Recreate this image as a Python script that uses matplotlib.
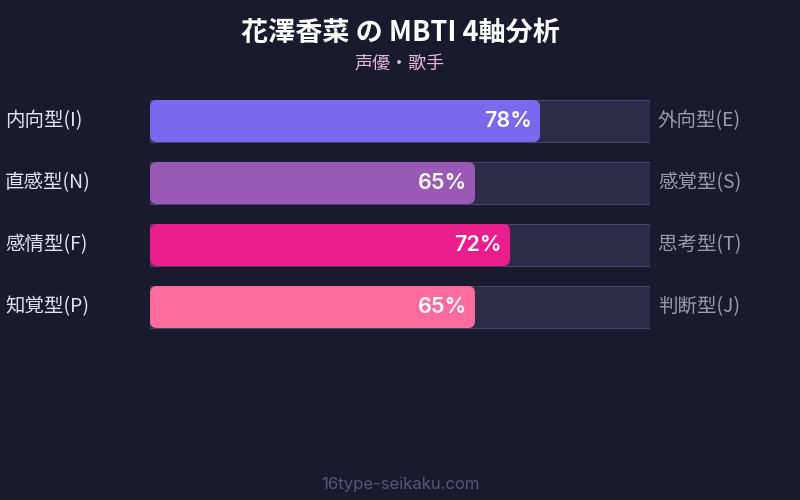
import matplotlib
matplotlib.use('Agg')
import matplotlib.pyplot as plt
from matplotlib.patches import FancyBboxPatch

plt.rcParams['font.family'] = ['Noto Sans CJK JP', 'DejaVu Sans']

# data
left_labels = ['内向型(I)', '直感型(N)', '感情型(F)', '知覚型(P)']
right_labels = ['外向型(E)', '感覚型(S)', '思考型(T)', '判断型(J)']
values = [78, 65, 72, 65]
colors = ['#7b68ee', '#9b59b6', '#e91e8c', '#ff6b9d']

bg = '#1a1a2e'
fig = plt.figure(figsize=(8, 5), dpi=100, facecolor=bg)

# axes covers the bar area: x 150..650 px, y 90..338 px
ax = fig.add_axes([150 / 800, (500 - 338) / 500, 500 / 800, 248 / 500])
ax.set_facecolor(bg)
ax.set_xlim(0, 100)
ax.set_ylim(len(values) - 0.5, -0.5)
ax.axis('off')

h = 42 / 62
# px -> data unit ratio for rounding
aspect = (1 / 62) / (100 / 500)

for i, (v, c) in enumerate(zip(values, colors)):
    ax.barh(i, 100, height=h, color='#2c2b48', edgecolor='#45446a', linewidth=0.8)
    box = FancyBboxPatch((0, i - h / 2), v, h,
                         boxstyle='round,pad=0,rounding_size=1.4',
                         mutation_aspect=aspect, facecolor=c, edgecolor='none')
    ax.add_patch(box)
    ax.text(v - 1.6, i, f'{v}%', ha='right', va='center', color='white',
            fontsize=15.5, fontweight='semibold', family=['Inter', 'DejaVu Sans'])
    ax.text(-29, i, left_labels[i], ha='left', va='center', color='#e4e4f0',
            fontsize=14, clip_on=False)
    ax.text(101.6, i, right_labels[i], ha='left', va='center', color='#9a9ab0',
            fontsize=14, clip_on=False)

fig.text(0.5, 1 - 33 / 500, '花澤香菜 の MBTI 4軸分析', ha='center', va='center',
         color='white', fontsize=19.5, fontweight='bold')
fig.text(0.5, 1 - 63 / 500, '声優・歌手', ha='center', va='center',
         color='#e0b8e0', fontsize=13)
fig.text(0.5, 1 - 484 / 500, '16type-seikaku.com', ha='center', va='center',
         color='#55557a', fontsize=12, family=['Inter', 'DejaVu Sans'])

fig.savefig('out.png', dpi=100, facecolor=bg)
